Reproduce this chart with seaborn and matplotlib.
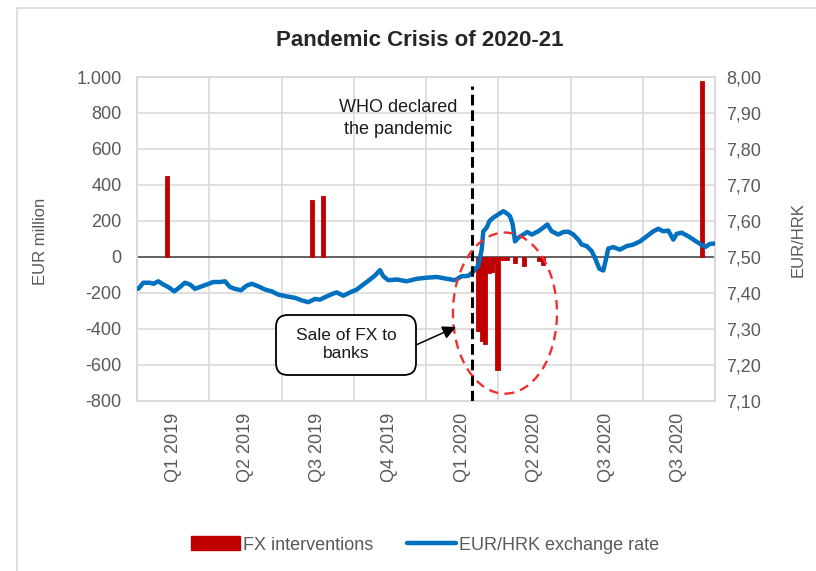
import matplotlib
matplotlib.use("Agg")
import matplotlib.pyplot as plt
import seaborn as sns
import pandas as pd
from matplotlib.patches import Ellipse, FancyBboxPatch, Patch, Rectangle
from matplotlib.lines import Line2D
from matplotlib.ticker import FuncFormatter, MultipleLocator

# ---------------- data ----------------
quarter_labels = ["Q1 2019", "Q2 2019", "Q3 2019", "Q4 2019",
                  "Q1 2020", "Q2 2020", "Q3 2020", "Q3 2020"]

# x positions are measured in quarters from the start of the axis (0..8)
line_pos = [0.018, 0.087, 0.180, 0.226, 0.295, 0.364, 0.433, 0.516, 0.595, 0.664,
            0.734, 0.803, 0.896, 0.965, 1.056, 1.149, 1.218, 1.287, 1.356, 1.439,
            1.518, 1.588, 1.679, 1.772, 1.864, 1.956, 2.072, 2.187, 2.280, 2.371,
            2.464, 2.533, 2.626, 2.717, 2.764, 2.855, 2.948, 3.041, 3.132, 3.225,
            3.294, 3.363, 3.409, 3.478, 3.594, 3.733, 3.871, 4.010, 4.148, 4.287,
            4.401, 4.494, 4.585, 4.655, 4.724, 4.771, 4.793, 4.840, 4.876, 4.931,
            5.001, 5.070, 5.117, 5.163, 5.200, 5.232, 5.277, 5.347, 5.402, 5.463,
            5.554, 5.623, 5.679, 5.740, 5.831, 5.900, 5.970, 6.039, 6.108, 6.155,
            6.224, 6.293, 6.339, 6.399, 6.454, 6.501, 6.523, 6.592, 6.685, 6.778,
            6.869, 6.962, 7.055, 7.146, 7.215, 7.284, 7.354, 7.423, 7.470, 7.539,
            7.631, 7.723, 7.792, 7.862, 7.931, 8.000]
eur_hrk = [7.411, 7.428, 7.428, 7.425, 7.432, 7.423, 7.416, 7.404, 7.416, 7.428,
           7.423, 7.411, 7.418, 7.423, 7.430, 7.430, 7.432, 7.416, 7.411, 7.407,
           7.420, 7.425, 7.418, 7.409, 7.404, 7.395, 7.390, 7.386, 7.379, 7.374,
           7.383, 7.381, 7.390, 7.398, 7.401, 7.392, 7.401, 7.409, 7.423, 7.437,
           7.448, 7.463, 7.446, 7.435, 7.437, 7.432, 7.439, 7.442, 7.444, 7.439,
           7.435, 7.446, 7.447, 7.459, 7.476, 7.520, 7.571, 7.581, 7.599, 7.609,
           7.618, 7.627, 7.621, 7.613, 7.590, 7.543, 7.553, 7.562, 7.569, 7.562,
           7.571, 7.581, 7.590, 7.571, 7.562, 7.569, 7.570, 7.562, 7.548, 7.534,
           7.530, 7.516, 7.497, 7.467, 7.462, 7.502, 7.523, 7.527, 7.520, 7.530,
           7.534, 7.543, 7.557, 7.571, 7.578, 7.571, 7.573, 7.548, 7.564, 7.567,
           7.557, 7.545, 7.536, 7.527, 7.536, 7.537]

bar_pos = [0.415, 2.422, 2.574,
           4.720, 4.747, 4.782, 4.817, 4.844, 4.872, 4.907, 4.941, 4.990,
           5.038, 5.080, 5.121, 5.232, 5.356, 5.564, 5.619, 7.820]
fx_interventions = [450, 315, 340,
                    -410, -415, -470, -485, -25, -90, -85, -30, -630,
                    -20, -20, -15, -35, -50, -25, -45, 980]

who_pos = 4.637

# ---------------- style ----------------
sns.set_theme(style="white")
plt.rcParams["font.family"] = ["Liberation Sans", "DejaVu Sans"]

GRID = "#D9D9D9"
TXT = "#595959"
RED = "#C00000"
BLUE = "#0070C0"

fig = plt.figure(figsize=(8.16, 5.71), dpi=100)
fig.patch.set_facecolor("white")
ax1 = fig.add_axes([137 / 816, 1 - 400.7 / 571, 578 / 816, 323.7 / 571])
ax2 = ax1.twinx()

# frame of the chart area (partly cut off at right/bottom)
fig.patches.append(Rectangle((17 / 816, -0.05), 1.2, 1 - 8 / 571 + 0.05,
                             transform=fig.transFigure, fill=False,
                             edgecolor=GRID, lw=1.2, zorder=0))

# bars
ax1.bar(bar_pos, fx_interventions, width=0.062, color=RED, edgecolor=RED,
        linewidth=0.6, zorder=3)
ax1.axhline(0, color="#595959", lw=1.3, zorder=2.5)

# line
df = pd.DataFrame({"pos": line_pos, "rate": eur_hrk})
sns.lineplot(data=df, x="pos", y="rate", ax=ax2, color=BLUE, lw=3.2, zorder=4)

# axes limits and ticks
ax1.set_xlim(0, 8)
ax1.set_ylim(-800, 1000)
ax2.set_ylim(7.10, 8.00)
ax1.yaxis.set_major_locator(MultipleLocator(200))
ax2.yaxis.set_major_locator(MultipleLocator(0.1))
ax1.yaxis.set_major_formatter(FuncFormatter(lambda v, p: f"{int(round(v)):,}".replace(",", ".")))
ax2.yaxis.set_major_formatter(FuncFormatter(lambda v, p: f"{v:.2f}".replace(".", ",")))

ax1.set_xticks([i + 0.5 for i in range(8)])
ax1.set_xticklabels(quarter_labels, rotation=90, va="top", ha="center")
ax1.set_xticks(range(9), minor=True)
ax1.grid(which="minor", axis="x", color=GRID, lw=1.2)
ax1.grid(which="major", axis="y", color=GRID, lw=1.2)
ax1.grid(which="major", axis="x", visible=False)
ax2.grid(False)

ax1.tick_params(axis="x", which="both", length=0, pad=9, labelsize=13, colors=TXT)
ax1.tick_params(axis="y", length=0, pad=11, labelsize=13, colors=TXT)
ax2.tick_params(axis="y", length=0, pad=8, labelsize=13, colors=TXT)

for a in (ax1, ax2):
    for s in a.spines.values():
        s.set_color(GRID)
        s.set_linewidth(1.2)

ax1.set_xlabel("")
ax2.set_xlabel("")
ax1.set_ylabel("EUR million", fontsize=12, color=TXT)
ax2.set_ylabel("EUR/HRK", fontsize=12, color=TXT, rotation=90)
ax1.yaxis.set_label_coords((48 - 137) / 578, (400.7 - 241) / 323.7)
ax2.yaxis.set_label_coords((791 - 137) / 578, (400.7 - 240) / 323.7)

# WHO line
ax2.axvline(who_pos, ymin=0, ymax=0.972, color="black", lw=2.2,
            ls=(0, (3.5, 1.6)), zorder=5)
ax1.text(3.612, 768, "WHO declared\nthe pandemic", ha="center", va="center",
         fontsize=13, color="#1a1a1a", linespacing=1.4, zorder=6)

# red dashed ellipse
ax2.add_patch(Ellipse((5.093, -313), 1.44, 896, transform=ax1.transData,
                      fill=False, edgecolor="#F03030", lw=1.7,
                      ls=(0, (4, 2.6)), zorder=6))
ax2.set_ylim(7.10, 8.00)

# callout box
box = FancyBboxPatch((276, 571 - 375), 140, 60,
                     boxstyle="round,pad=0,rounding_size=12",
                     transform=matplotlib.transforms.IdentityTransform(),
                     facecolor="white", edgecolor="black", lw=1.3, zorder=7)
fig.patches.append(box)
fig.text(346 / 816, 1 - 345 / 571, "Sale of FX to\nbanks", ha="center", va="center",
         fontsize=12.5, color="#1a1a1a", linespacing=1.25, zorder=8)
fig.add_artist(plt.Annotation("", xy=(456, 571 - 327), xycoords="figure pixels",
                              xytext=(416, 571 - 345), textcoords="figure pixels",
                              arrowprops=dict(arrowstyle="-|>", color="black", lw=1.1,
                                              mutation_scale=20, shrinkA=0, shrinkB=0)))

# title
fig.text(420 / 816, 1 - 40 / 571, "Pandemic Crisis of 2020-21", ha="center",
         va="center", fontsize=16, fontweight="bold", color="#262626")

# legend
handles = [Patch(facecolor=RED, edgecolor=RED),
           Line2D([0], [0], color=BLUE, lw=3.2)]
fig.legend(handles, ["FX interventions", "EUR/HRK exchange rate"],
           loc="center", bbox_to_anchor=(425 / 816, 1 - 545 / 571), ncol=2,
           frameon=False, fontsize=13, labelcolor=TXT, handlelength=2.7,
           handleheight=0.8, handletextpad=0.15, columnspacing=1.9)

fig.savefig("out.png", dpi=100, facecolor="white")
